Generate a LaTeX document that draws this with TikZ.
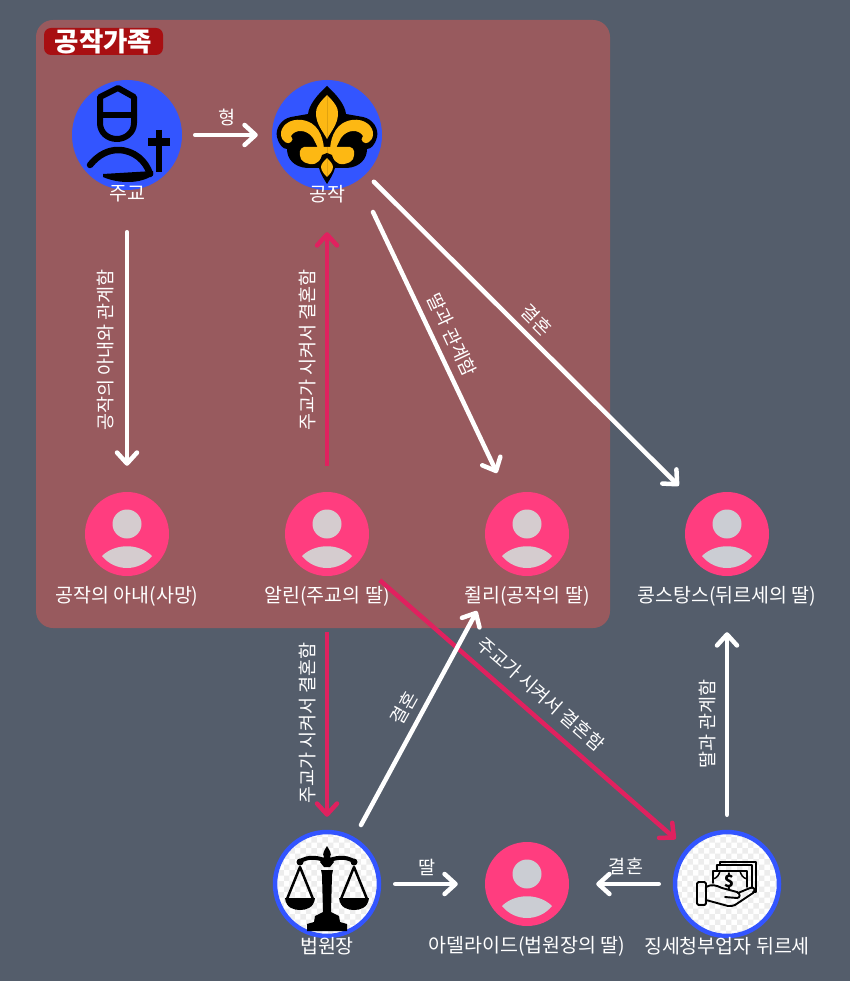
\documentclass[tikz,border=0pt]{standalone}
\usepackage{fontspec}
\setmainfont{Noto Sans CJK KR}
\usetikzlibrary{arrows.meta,patterns}
\definecolor{bgcol}{HTML}{545D6B}
\definecolor{panelcol}{HTML}{985A5E}
\definecolor{tagcol}{HTML}{A80F12}
\definecolor{pinkcol}{HTML}{FF3D7F}
\definecolor{bluecol}{HTML}{3355FF}
\definecolor{redline}{HTML}{E0215F}
\definecolor{lilycol}{HTML}{FDB813}
\definecolor{headin}{HTML}{D5CCCF}
\definecolor{headout}{HTML}{CBCDD3}
\tikzset{
  person/.style={circle,fill=pinkcol,minimum size=84pt,inner sep=0pt,
    path picture={\begin{scope}[shift=(path picture bounding box.center)]
      \fill[#1] (0,-10) circle[radius=14.5pt];
      \fill[#1] (-25,22) .. controls (-12,9) and (12,9) .. (25,22) .. controls (12,38) and (-12,38) .. (-25,22) -- cycle;
    \end{scope}}},
  bluebase/.style={circle,fill=bluecol,minimum size=110pt,inner sep=0pt},
  whitebase/.style={circle,draw=bluecol,line width=4.5pt,preaction={fill=white},pattern=checkerboard,pattern color=black!7,minimum size=104pt,inner sep=0pt},
  namelabel/.style={text=white,font=\fontsize{19.5}{22}\selectfont},
  smalllabel/.style={text=white,font=\fontsize{18.5}{20}\selectfont},
  whitearrow/.style={white,line width=4.5pt,line cap=round,-{Straight Barb[length=11pt,width=20pt,round]}},
  redarrow/.style={redline,line width=4.5pt,-{Straight Barb[length=11pt,width=20pt,round]}},
  ink/.style={black,line cap=round,line join=round}
}
\begin{document}
\begin{tikzpicture}[x=1pt,y=-1pt]
\useasboundingbox (0,0) rectangle (850,981);
\fill[bgcol] (0,0) rectangle (850,981);
\fill[panelcol,rounded corners=17pt] (36,20) rectangle (610,628);
\node[fill=tagcol,rounded corners=7pt,text=white,font=\fontsize{26.5}{27}\bfseries\selectfont,minimum width=119pt,minimum height=27pt,inner sep=0pt] (tag) at (103.5,41.5) {공작가족};

% top row
\node[bluebase] (bishop) at (127,135) {};
\node[bluebase] (duke) at (327,135) {};
% people
\node[person=headin] (wife) at (127,534) {};
\node[person=headin] (alin) at (327,534) {};
\node[person=headin] (julie) at (527,534) {};
\node[person=headout] (constance) at (727,534) {};
\node[person=headout] (adelaide) at (527,884) {};
% bottom row
\node[whitebase] (judge) at (327,884) {};
\node[whitebase] (durcet) at (727,884) {};

% bishop icon
\begin{scope}[shift={(bishop.center)}]
\draw[ink,line width=6pt] (-9,-47) -- (7,-38) -- (7,-12) .. controls (7,-2) and (-2,4) .. (-10,4) .. controls (-20,4) and (-27,-3) .. (-27,-12) -- (-27,-38) -- cycle;
\draw[ink,line width=6pt] (-27,-20) -- (7,-20);
\draw[ink,line width=6.5pt] (-37,30) .. controls (-28,19) and (-18,15) .. (-9,15) .. controls (7,15) and (19,26) .. (23,39);
\fill[ink] (-24,39) -- (26,36) -- (26,40) .. controls (14,49) and (-8,49) .. (-24,42) -- cycle;
\draw[black,line width=6.5pt] (32,-5) -- (32,37);
\draw[black,line width=8pt] (21,7) -- (43,7);
\end{scope}

% lily icon
\begin{scope}[shift={(duke.center)}]
\foreach \s in {1,-1} {
  \begin{scope}[xscale=\s]
  \fill[black] (0,-49) .. controls (10,-40) and (18,-30) .. (19,-21) -- (36,-18) .. controls (46,-16) and (52,-6) .. (50,2) .. controls (48,10) and (44,14) .. (40,14) .. controls (40,24) and (33,32) .. (20,33) -- (8,33) .. controls (6,40) and (3,44) .. (0,49) -- cycle;
  \fill[lilycol] (3,14) .. controls (4,0) and (10,-13) .. (25,-15) .. controls (38,-17) and (47,-8) .. (46,0) .. controls (45,7) and (39,10) .. (36,7) .. controls (34,6) and (34,3) .. (36,1) .. controls (32,-6) and (20,-6) .. (14,3) .. controls (12,7) and (10,10) .. (9,14) -- cycle;
  \fill[lilycol] (0,12) -- (23,12) .. controls (28,13) and (28,19) .. (26,24) .. controls (22,30) and (12,31) .. (8,26) -- (4,20) -- (0,20) -- cycle;
  \fill[lilycol] (0,-40) .. controls (7,-33) and (12,-27) .. (11,-20) .. controls (10,-10) and (5,-5) .. (0,4) -- cycle;
  \fill[black] (0,18) -- (5,20) -- (8,30) -- (3,30) -- (0,22) -- cycle;
  \fill[lilycol] (0,23) .. controls (3,26) and (6,29) .. (6,32) .. controls (6,36) and (2,40) .. (0,42) -- cycle;
  \end{scope}
}
\end{scope}

% scales icon
\begin{scope}[shift={(judge.center)}]
\fill[black] (-6,-14) -- (6,-14) -- (5,-9) -- (4,28) -- (12,32) -- (13,38) -- (20,40) -- (20,47) -- (-20,47) -- (-20,40) -- (-13,38) -- (-12,32) -- (-4,28) -- (-5,-9) -- (-6,-14) -- cycle;
\draw[ink,line width=4pt] (-28,-22) .. controls (-18,-29) and (-8,-26) .. (0,-23) .. controls (8,-26) and (18,-29) .. (28,-22);
\fill[black] (0,-38) .. controls (3,-33) and (5,-30) .. (3,-27) -- (7,-22) -- (3,-17) -- (-3,-17) -- (-7,-22) -- (-3,-27) .. controls (-5,-30) and (-3,-33) .. (0,-38) -- cycle;
\foreach \s in {1,-1} {
  \begin{scope}[xscale=\s]
  \draw[black,line width=2.5pt,line join=round] (14,15) -- (27,-17) -- (40,15);
  \fill[black] (12,14) -- (42,14) .. controls (41,24) and (33,26) .. (27,26) .. controls (21,26) and (13,24) .. (12,14) -- cycle;
  \fill[black] (27,-22) circle[radius=3.5pt];
  \end{scope}
}
\end{scope}

% money icon
\begin{scope}[shift={(durcet.center)}]
\draw[ink,line width=1.9pt,rounded corners=1.5pt] (-30,-2) -- (-21,-2) -- (-21,21) -- (-30,21) -- cycle;
\draw[ink,line width=1.9pt] (-21,3) .. controls (-16,0) and (-11,1) .. (-5,4) -- (10,8) .. controls (14,10) and (13,14) .. (10,14) -- (-2,13);
\draw[ink,line width=1.9pt] (-21,16) -- (1,22) .. controls (4,22) and (6,22) .. (8,21) -- (26,9) .. controls (29,6) and (27,2) .. (23,4) -- (11,9);
\draw[ink,line width=1.9pt] (-14,-1) -- (-14,-13) -- (20,-13) -- (20,3);
\draw[ink,line width=1.5pt] (-14,-5) .. controls (-10,-6) and (-8,-9) .. (-7,-13) (13,-13) .. controls (14,-9) and (16,-6) .. (20,-5);
\draw[ink,line width=1.9pt] (-10,-14) -- (-10,-19) -- (25,-19) -- (25,4);
\draw[ink,line width=1.9pt] (-7,-20) -- (-7,-22) -- (29,-22) -- (29,8) -- (26,8);
\node[text=black,font=\fontsize{17}{17}\bfseries\selectfont,inner sep=0pt] (dollar) at (2,-3) {\$};
\end{scope}

% name labels
\node[namelabel] (bishoplabel) at (127,194) {주교};
\node[namelabel] (dukelabel) at (327,194) {공작};
\node[namelabel] (wifelabel) at (127,596) {공작의 아내(사망)};
\node[namelabel] (alinlabel) at (327,596) {알린(주교의 딸)};
\node[namelabel] (julielabel) at (527,596) {쥘리(공작의 딸)};
\node[namelabel] (constancelabel) at (727,596) {콩스탕스(뒤르세의 딸)};
\node[namelabel] (judgelabel) at (327,946) {법원장};
\node[namelabel] (adelaidelabel) at (527,946) {아델라이드(법원장의 딸)};
\node[namelabel] (durcetlabel) at (727,946) {징세청부업자 뒤르세};

% ends that do not lie on a line between centres
\coordinate (dukejuliestart) at (373,212);
\coordinate (dukejulieend) at (497,473);
\coordinate (judgejuliestart) at (361,825);
\coordinate (judgejulieend) at (477,611);

% connectors
\draw[whitearrow,shorten <=13pt,shorten >=14pt] (bishop) -- (duke);
\draw[whitearrow,shorten <=42pt,shorten >=26pt] (bishop) -- (wife);
\draw[redarrow,shorten <=26pt,shorten >=42pt] (alin) -- (duke);
\draw[whitearrow] (dukejuliestart) -- (dukejulieend);
\draw[whitearrow,shorten <=11pt,shorten >=26pt] (duke) -- (constance);
\draw[redarrow,shorten <=56pt,shorten >=13pt] (alin) -- (judge);
\draw[redarrow,shorten <=28pt,shorten >=14pt] (alin) -- (durcet);
\draw[whitearrow] (judgejuliestart) -- (judgejulieend);
\draw[whitearrow,shorten <=14pt,shorten >=27pt] (judge) -- (adelaide);
\draw[whitearrow,shorten <=14pt,shorten >=27pt] (durcet) -- (adelaide);
\draw[whitearrow,shorten <=15pt,shorten >=56pt] (durcet) -- (constance);

% connector labels
\node[smalllabel] (brother) at (227,117) {형};
\node[smalllabel,rotate=90] (wifeaffair) at (106,350) {공작의 아내와 관계함};
\node[smalllabel,rotate=90] (forcedup) at (307,350) {주교가 시켜서 결혼함};
\node[smalllabel,rotate=-65] (juliaffair) at (452,335) {딸과 관계함};
\node[smalllabel,rotate=-45] (dukemarry) at (537,320) {결혼};
\node[smalllabel,rotate=90] (forceddown) at (307,723) {주교가 시켜서 결혼함};
\node[smalllabel,rotate=-41] (forceddiag) at (541,694) {주교가 시켜서 결혼함};
\node[smalllabel,rotate=61] (judgemarry) at (404,708) {결혼};
\node[smalllabel,rotate=90] (constaffair) at (707,724) {딸과 관계함};
\node[smalllabel] (daughter) at (427,867) {딸};
\node[smalllabel] (durcetmarry) at (626,866) {결혼};
\end{tikzpicture}
\end{document}
